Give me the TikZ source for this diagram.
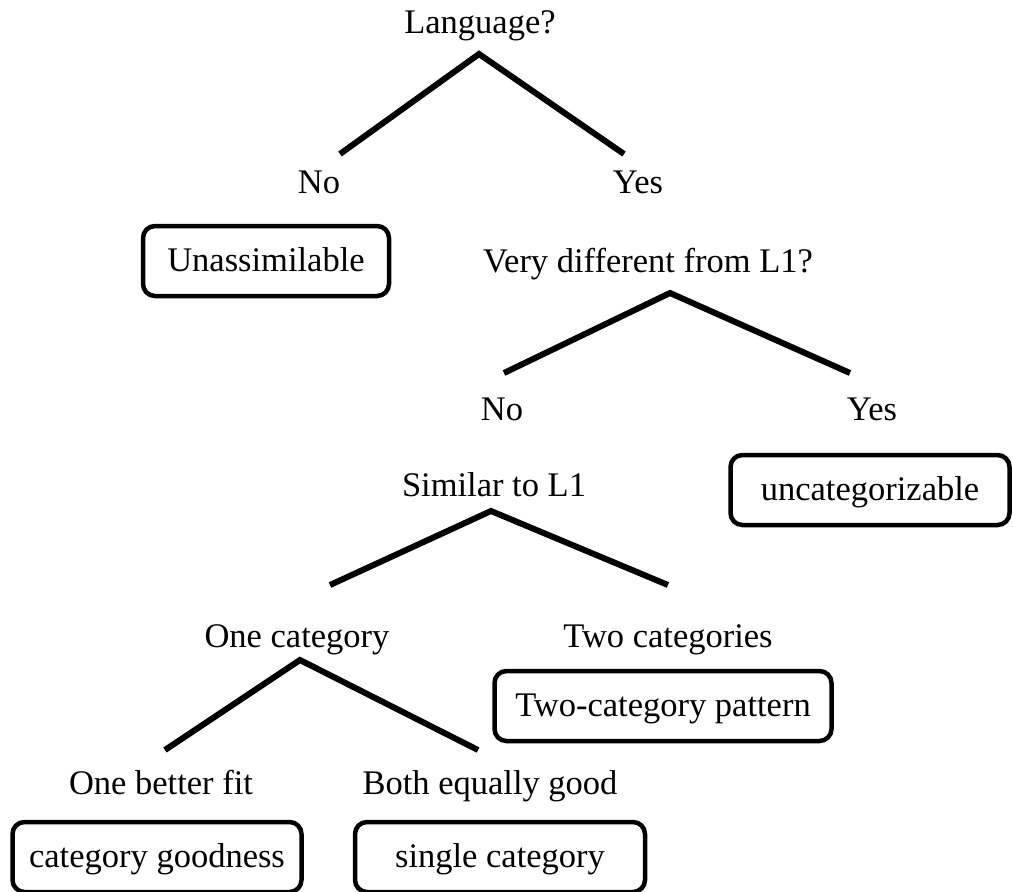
\documentclass[tikz,border=0pt]{standalone}
\usepackage{fontspec}
\setmainfont{Liberation Serif}
\usepackage{tikz}
\usetikzlibrary{positioning,calc}
\tikzset{
  ask/.style={font=\fontsize{34.5}{40}\selectfont, inner sep=0pt, anchor=base},
  outcome/.style={rounded corners=12pt, draw, line width=4.5pt, inner sep=0pt,
    font=\fontsize{34.5}{40}\selectfont, text height=26pt, text depth=6pt,
    minimum height=70pt},
  branch/.style={line width=6pt, line join=miter},
}

\begin{document}
\begin{tikzpicture}[x=1pt, y=-1pt]
\useasboundingbox (0,0) rectangle (1013,892);

% questions and answers
\node[ask] (lang) at (480,33) {Language?};
\node[ask] (no1) at (319,193) {No};
\node[ask] (yes1) at (638,193) {Yes};
\node[ask] (diff) at (648,272) {Very different from L1?};
\node[ask] (no2) at (502,420) {No};
\node[ask] (yes2) at (872,420) {Yes};
\node[ask] (sim) at (494,496) {Similar to L1};
\node[ask] (onecat) at (297,647) {One category};
\node[ask] (twocat) at (668,647) {Two categories};
\node[ask] (better) at (161,794) {One better fit};
\node[ask] (equal) at (490,794) {Both equally good};

% outcomes
\node[outcome, minimum width=246pt] (unassim) at (266,261) {Unassimilable};
\node[outcome, minimum width=279pt] (uncat) at (870,490) {uncategorizable};
\node[outcome, minimum width=337pt] (twopat) at (663,706) {Two-category pattern};
\node[outcome, minimum width=289pt] (goodness) at (157,857) {category goodness};
\node[outcome, minimum width=290pt] (single) at (500,857) {single category};

% branch points
\coordinate (lang-top) at (479,54);
\coordinate (lang-l) at (340,154);
\coordinate (lang-r) at (624,154);
\coordinate (diff-top) at (670,293);
\coordinate (diff-l) at (504,373);
\coordinate (diff-r) at (850,373);
\coordinate (sim-top) at (491,511);
\coordinate (sim-l) at (330,585);
\coordinate (sim-r) at (668,585);
\coordinate (one-top) at (300,660);
\coordinate (one-l) at (165,750);
\coordinate (one-r) at (478,750);

\foreach \q in {lang,diff,sim,one}
  \draw[branch] (\q-l) -- (\q-top) -- (\q-r);
\end{tikzpicture}
\end{document}
